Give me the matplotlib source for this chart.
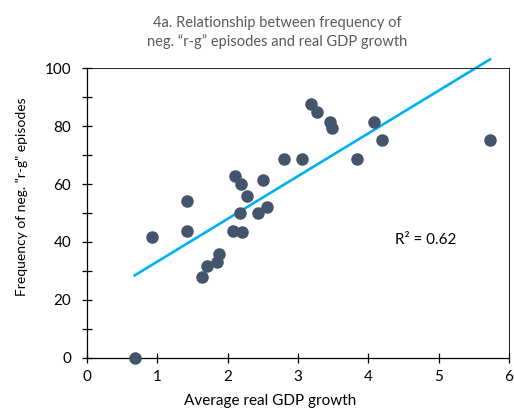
import numpy as np
import matplotlib.pyplot as plt
from matplotlib.ticker import MultipleLocator

plt.rcParams['font.family'] = ['Lato', 'DejaVu Sans']

# average real GDP growth vs frequency of negative r-g episodes
gdp_growth = [0.68, 0.92, 1.42, 1.42, 1.64, 1.70, 1.85, 1.88, 2.07, 2.10, 2.19, 2.18,
              2.21, 2.28, 2.43, 2.50, 2.56, 2.80, 3.05, 3.19, 3.27, 3.46, 3.49, 3.84,
              4.08, 4.20, 5.73]
neg_freq = [0.0, 41.7, 54.1, 43.9, 27.9, 31.8, 33.2, 36.0, 43.9, 62.6, 60.0, 49.9,
            43.6, 56.0, 50.0, 61.5, 52.1, 68.7, 68.7, 87.6, 84.7, 81.4, 79.2, 68.7,
            81.3, 75.1, 75.1]

x = np.array(gdp_growth)
y = np.array(neg_freq)
slope, icept = np.polyfit(x, y, 1)

fig = plt.figure(figsize=(5.14, 4.11), dpi=100)
ax = fig.add_axes([0.1693, 0.129, 0.8210, 0.7055])

xs = np.array([x.min(), x.max()])
ax.plot(xs, slope * xs + icept, color='#00B0F0', lw=1.9, clip_on=False, zorder=2)
ax.scatter(x, y, s=64, color='#44546A', zorder=3, clip_on=False)

ax.set_xlim(0, 6)
ax.set_ylim(0, 100)
ax.xaxis.set_major_locator(MultipleLocator(1))
ax.yaxis.set_major_locator(MultipleLocator(20))
ax.yaxis.set_minor_locator(MultipleLocator(10))
ax.tick_params(which='both', direction='inout', length=7, width=0.9, labelsize=11)
ax.tick_params(axis='x', pad=5)
ax.tick_params(axis='y', pad=8)
for s in ['top', 'right']:
    ax.spines[s].set_linewidth(0.6)
for s in ['left', 'bottom']:
    ax.spines[s].set_linewidth(0.9)

ax.set_xlabel('Average real GDP growth', fontsize=11)
ax.xaxis.set_label_coords(0.434, -0.125)
ax.set_ylabel('Frequency of neg. "r-g" episodes', fontsize=10)
ax.yaxis.set_label_coords(-0.14, 0.557)
ax.text(4.38, 40.7, 'R² = 0.62', fontsize=11, va='center')
fig.text(0.539, 0.92, '4a. Relationship between frequency of\nneg. \u201cr-g\u201d episodes and real GDP growth',
         ha='center', va='center', fontsize=10.5, color='#595959', linespacing=1.35)

fig.savefig('out.png', dpi=100)
